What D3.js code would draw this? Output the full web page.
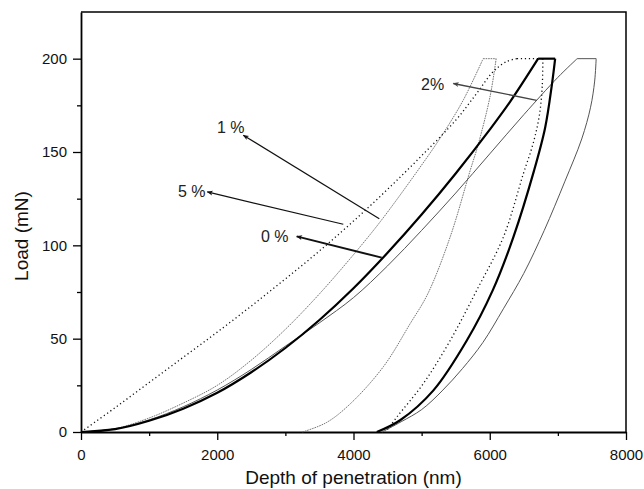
<!DOCTYPE html>
<html>
<head>
<meta charset="utf-8">
<script src="https://cdn.jsdelivr.net/npm/d3@7"></script>
<style>
  body { margin: 0; background: #fff; }
  svg { display: block; font-family: Arial, "Liberation Sans", sans-serif; }
</style>
</head>
<body>
<svg id="chart" width="644" height="489"></svg>
<script>
// Indentation load–depth curves: [depth (nm), load (mN)]
// 0 % sample
const loading0 = [[0,0],[500,1.5],[1000,6],[1500,12.5],[2000,21],[2500,32],[3000,45],[3500,60],[4000,77],[4500,96],[5000,116.5],[5500,138.5],[6000,162],[6300,177],[6710,200]];
const unloading0 = [[6960,200],[6912,186],[6813,163],[6650,140],[6348,104.5],[6045,76],[5663,49],[5173,22.3],[4684,6.3],[4342,0]];
// 1 % sample
const loading1 = [[0,0],[500,1.8],[1000,7.5],[1500,15.5],[2000,25],[2500,38.5],[3000,55],[3500,74],[4000,95],[4400,113],[5000,143],[5300,159],[5614,178],[5903,200]];
const unloading1 = [[6094,200],[6006,180],[5830,154],[5712,140],[5419,104.5],[5090,74],[4831,58],[4439,35],[3950,15],[3600,5],[3250,0]];
// 2 % sample
const loading2 = [[0,0],[500,1.7],[1000,6.5],[1500,13.5],[2000,22.5],[2500,33.5],[3000,46],[3500,58.5],[4000,72],[4500,89],[5000,108],[5500,128],[6000,149],[6500,170],[7000,190],[7283,200]];
const unloading2 = [[7562,200],[7540,188],[7480,174],[7350,157],[7100,134],[6800,108],[6500,85],[6200,66],[5900,48],[5600,34],[5300,22],[5000,12],[4700,5.5],[4420,0]];
// 5 % sample
const loading3 = [[0,0],[500,13],[1000,26.5],[1500,40],[2000,53.5],[2500,67.5],[3000,82],[3500,97],[4000,113],[4500,130],[5000,148],[5500,167],[5800,181],[6050,193],[6250,198.5],[6398,200]];
const unloading3 = [[6780,200],[6770,185],[6730,170],[6640,155],[6490,138],[6201,104.5],[5810,76],[5419,49],[5026,26],[4636,8],[4470,0]];

// Tick values
const xTicks = [0, 2000, 4000, 6000, 8000];
const xMinorTicks = [1000, 3000, 5000, 7000];
const yTicks = [0, 50, 100, 150, 200];
const yMinorTicks = [25, 75, 125, 175];

// Annotation labels with arrows: label position, arrow head, arrow tail (data units)
const labelTexts = ["1 %", "5 %", "0 %", "2%"];
const labelPos = [[1996,160],[1424,125.8],[2642,101.6],[4991,183]];
const arrowHeads = [[2382,159],[1854,128.6],[3166,104.8],[5465,186.7]];
const arrowTails = [[4379,114.3],[3850,111.3],[4414,93.4],[6689,177.7]];

const svg = d3.select("#chart");
const W = 644, H = 489;
const margin = { top: 12, right: 18, bottom: 57, left: 81 };

const x = d3.scaleLinear().domain([0, 8000]).range([margin.left, W - margin.right]);
const y = d3.scaleLinear().domain([0, 225]).range([H - margin.bottom, margin.top]);

// frame (top and right)
svg.append("path")
  .attr("d", `M${x(0)},${y(225)}H${x(8000)}V${y(0)}`)
  .attr("fill", "none").attr("stroke", "#000").attr("stroke-width", 1.5);

function styleAxis(g) {
  g.select(".domain").attr("stroke-width", 1.8);
  g.selectAll(".tick line").attr("stroke-width", 1.3);
  g.selectAll("text").attr("font-size", 15).attr("fill", "#111")
    .attr("font-family", "Arial, 'Liberation Sans', sans-serif");
}

svg.append("g").attr("transform", `translate(0,${y(0)})`)
  .call(d3.axisBottom(x).tickValues(xMinorTicks).tickSize(4).tickSizeOuter(0).tickFormat(""))
  .call(g => g.select(".domain").remove())
  .call(g => g.selectAll(".tick line").attr("stroke-width", 1.3));
svg.append("g").attr("transform", `translate(${x(0)},0)`)
  .call(d3.axisLeft(y).tickValues(yMinorTicks).tickSize(4).tickSizeOuter(0).tickFormat(""))
  .call(g => g.select(".domain").remove())
  .call(g => g.selectAll(".tick line").attr("stroke-width", 1.3));

svg.append("g").attr("transform", `translate(0,${y(0)})`)
  .call(d3.axisBottom(x).tickValues(xTicks).tickSize(8).tickPadding(9).tickSizeOuter(0).tickFormat(d3.format("d")))
  .call(styleAxis);
svg.append("g").attr("transform", `translate(${x(0)},0)`)
  .call(d3.axisLeft(y).tickValues(yTicks).tickSize(8).tickPadding(6).tickSizeOuter(0).tickFormat(d3.format("d")))
  .call(styleAxis);

// axis titles
svg.append("text")
  .attr("x", (x(0) + x(8000)) / 2).attr("y", 484)
  .attr("text-anchor", "middle").attr("font-size", 19).attr("fill", "#111")
  .text("Depth of penetration (nm)");
svg.append("text")
  .attr("transform", `translate(27.5,${(y(0) + y(225)) / 2 + 14}) rotate(-90)`)
  .attr("text-anchor", "middle").attr("font-size", 19).attr("fill", "#111")
  .text("Load (mN)");

// curves
const smooth = d3.line().x(d => x(d[0])).y(d => y(d[1])).curve(d3.curveCatmullRom.alpha(0.5));
const straight = d3.line().x(d => x(d[0])).y(d => y(d[1]));

const series = [
  { load: loading1, unload: unloading1, stroke: "#666", width: 0.9, dash: "1.6,0.9" },
  { load: loading3, unload: unloading3, stroke: "#111", width: 1.3, dash: "1.2,2.8" },
  { load: loading2, unload: unloading2, stroke: "#555", width: 1.0, dash: null },
  { load: loading0, unload: unloading0, stroke: "#000", width: 2.2, dash: null }
];

const curves = svg.append("g").attr("fill", "none").attr("stroke-linejoin", "round");
series.forEach(s => {
  const peak = [s.load[s.load.length - 1], s.unload[0]];
  [smooth(s.load), straight(peak), smooth(s.unload)].forEach(d => {
    curves.append("path").attr("d", d)
      .attr("stroke", s.stroke).attr("stroke-width", s.width)
      .attr("stroke-dasharray", s.dash);
  });
});

// arrowheads
const defs = svg.append("defs");
["#111", "#444"].forEach((c, i) => {
  defs.append("marker").attr("id", "arrow" + i)
    .attr("viewBox", "0 0 10 10").attr("refX", 9).attr("refY", 5)
    .attr("markerUnits", "userSpaceOnUse")
    .attr("markerWidth", 8).attr("markerHeight", 6)
    .attr("orient", "auto")
    .append("path").attr("d", "M0,1 L10,5 L0,9 L2.5,5 Z").attr("fill", c);
});

const arrowWidths = [1.2, 1.2, 2.0, 1.3];
const arrowColors = ["#111", "#111", "#111", "#444"];
labelTexts.forEach((t, i) => {
  svg.append("line")
    .attr("x1", x(arrowTails[i][0])).attr("y1", y(arrowTails[i][1]))
    .attr("x2", x(arrowHeads[i][0])).attr("y2", y(arrowHeads[i][1]))
    .attr("stroke", arrowColors[i]).attr("stroke-width", arrowWidths[i])
    .attr("marker-end", `url(#arrow${i === 3 ? 1 : 0})`);
  svg.append("text")
    .attr("x", x(labelPos[i][0])).attr("y", y(labelPos[i][1]))
    .attr("font-size", 16).attr("fill", "#222")
    .text(t);
});
</script>
</body>
</html>
